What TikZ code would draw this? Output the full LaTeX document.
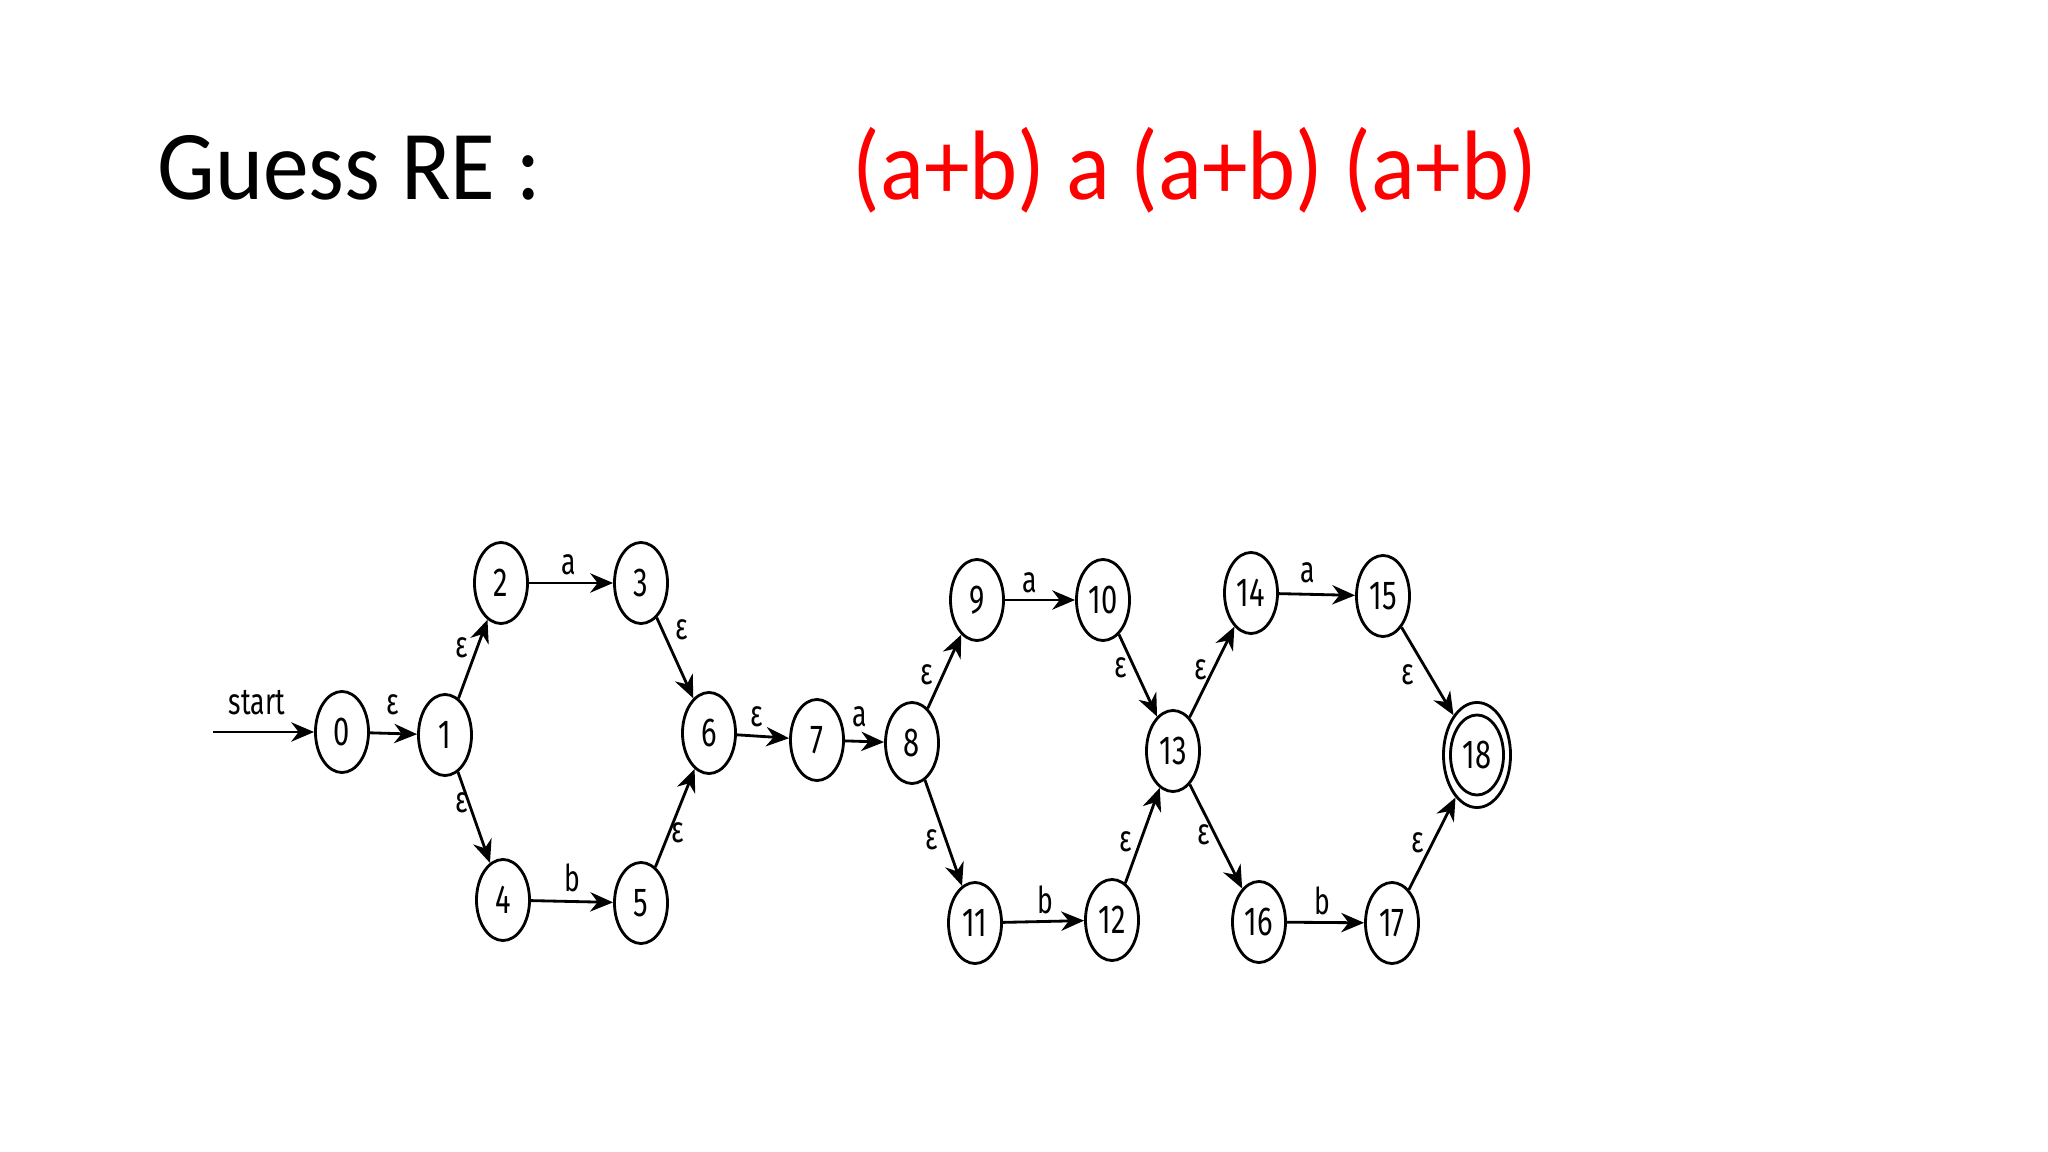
\documentclass[tikz,border=0pt]{standalone}
\usepackage{graphicx}
\usepackage{fontspec}
\setmainfont{Carlito}
\newfontfamily\lblfont{Fira Sans}
\usetikzlibrary{shapes.geometric,arrows.meta}
\newcommand\sqz[1]{\scalebox{0.72}[1]{#1}}
\newcommand\tall[1]{\scalebox{1}[1.08]{#1}}
\begin{document}
\begin{tikzpicture}[x=0.01cm,y=-0.01cm,
  st/.style={ellipse,draw,line width=0.8pt,minimum width=0.53cm,minimum height=0.81cm,inner sep=0pt,font=\lblfont\fontsize{11.5}{13}\selectfont},
  acc/.style={st,minimum width=0.67cm,minimum height=1.05cm},
  tr/.style={-{Stealth[length=6.5pt,width=5.5pt]},line width=0.8pt},
  lbl/.style={inner sep=0pt,font=\lblfont\fontsize{10.5}{12}\selectfont},
  ttl/.style={anchor=base west,inner sep=0pt,font=\fontsize{26}{30}\selectfont}]
\path[use as bounding box, fill=white] (0,0) rectangle (2048,1152);

% title
\node[ttl] (title) at (157,200) {\tall{Guess RE :}};
\node[ttl,text=red] (re) at (852,200) {\tall{(a+b) a (a+b) (a+b)}};

% states
\node[st] (n0) at (342,732) {\sqz{0}};
\node[st] (n1) at (445,735) {\sqz{1}};
\node[st] (n2) at (501,583) {\sqz{2}};
\node[st] (n3) at (641,583) {\sqz{3}};
\node[st] (n4) at (503,900) {\sqz{4}};
\node[st] (n5) at (641,903) {\sqz{5}};
\node[st] (n6) at (709,733) {\sqz{6}};
\node[st] (n7) at (817,740) {\sqz{7}};
\node[st] (n8) at (912,743) {\sqz{8}};
\node[st] (n9) at (977,600) {\sqz{9}};
\node[st] (n10) at (1103,600) {\sqz{10}};
\node[st] (n11) at (975,923) {\sqz{11}};
\node[st] (n12) at (1112,920) {\sqz{12}};
\node[st] (n13) at (1173,751) {\sqz{13}};
\node[st] (n14) at (1251,593) {\sqz{14}};
\node[st] (n15) at (1383,596) {\sqz{15}};
\node[st] (n16) at (1259,922) {\sqz{16}};
\node[st] (n17) at (1392,923) {\sqz{17}};
\node[acc] (n18) at (1477,755) {\sqz{18}};
\draw[line width=0.8pt] (n18.center) ellipse [x radius=0.265cm, y radius=0.40cm];

% transitions
\coordinate (s) at (213,732);
\draw[tr] (s) -- (n0) node[lbl] at (257,703) {\sqz{start}};
\draw[tr] (n0) -- (n1) node[lbl] at (393,705) {\sqz{ε}};
\draw[tr] (n1) -- (n2) node[lbl] at (462,648) {\sqz{ε}};
\draw[tr] (n2) -- (n3) node[lbl] at (569,565) {\sqz{a}};
\draw[tr] (n3) -- (n6) node[lbl] at (682,630) {\sqz{ε}};
\draw[tr] (n1) -- (n4) node[lbl] at (462,803) {\sqz{ε}};
\draw[tr] (n4) -- (n5) node[lbl] at (572,878) {\sqz{b}};
\draw[tr] (n5) -- (n6) node[lbl] at (678,833) {\sqz{ε}};
\draw[tr] (n6) -- (n7) node[lbl] at (757,717) {\sqz{ε}};
\draw[tr] (n7) -- (n8) node[lbl] at (860,717) {\sqz{a}};
\draw[tr] (n8) -- (n9) node[lbl] at (927,675) {\sqz{ε}};
\draw[tr] (n9) -- (n10) node[lbl] at (1030,583) {\sqz{a}};
\draw[tr] (n8) -- (n11) node[lbl] at (932,840) {\sqz{ε}};
\draw[tr] (n11) -- (n12) node[lbl] at (1045,900) {\sqz{b}};
\draw[tr] (n10) -- (n13) node[lbl] at (1121,668) {\sqz{ε}};
\draw[tr] (n12) -- (n13) node[lbl] at (1126,842) {\sqz{ε}};
\draw[tr] (n13) -- (n14) node[lbl] at (1201,670) {\sqz{ε}};
\draw[tr] (n14) -- (n15) node[lbl] at (1308,573) {\sqz{a}};
\draw[tr] (n13) -- (n16) node[lbl] at (1204,835) {\sqz{ε}};
\draw[tr] (n16) -- (n17) node[lbl] at (1322,901) {\sqz{b}};
\draw[tr] (n15) -- (n18) node[lbl] at (1408,675) {\sqz{ε}};
\draw[tr] (n17) -- (n18) node[lbl] at (1418,843) {\sqz{ε}};
\end{tikzpicture}
\end{document}
